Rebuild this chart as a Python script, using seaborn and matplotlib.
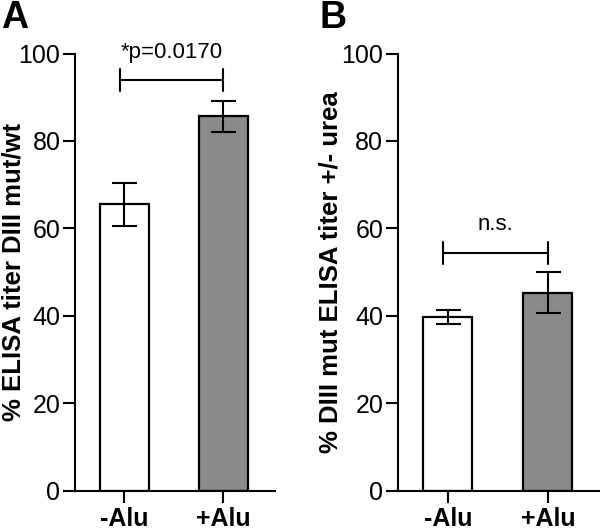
import numpy as np
import pandas as pd
import matplotlib
matplotlib.use("Agg")
import matplotlib.pyplot as plt
import seaborn as sns

# Data
groups = ['-Alu', '+Alu']
titer_mut_wt = [65.5, 85.6]
titer_mut_wt_err = [5.0, 3.6]
titer_urea = [39.8, 45.3]
titer_urea_err = [1.6, 4.7]
yticks = [0, 20, 40, 60, 80, 100]

sns.set_style("ticks")
plt.rcParams['font.family'] = ['Liberation Sans', 'DejaVu Sans']
plt.rcParams.update({'text.color': 'black', 'axes.labelcolor': 'black',
                     'xtick.color': 'black', 'ytick.color': 'black',
                     'axes.edgecolor': 'black'})

fig = plt.figure(figsize=(6, 5.3), dpi=100)
ax_a = fig.add_axes([0.125, 0.074, 0.333, 0.825])
ax_b = fig.add_axes([0.663, 0.074, 0.337, 0.825])


def draw_panel(ax, vals, errs, ylabel, sig_text, sig_y, sig_dy, label_x):
    df = pd.DataFrame({'group': groups, 'value': vals})
    sns.barplot(data=df, x='group', y='value', hue='group',
                palette=['white', '#8a8a8a'], legend=False,
                width=0.49, edgecolor='black', linewidth=1.6,
                errorbar=None, ax=ax)
    ax.errorbar(range(len(vals)), vals, yerr=errs, fmt='none',
                ecolor='black', elinewidth=1.5, capsize=9, capthick=1.5)
    # significance bracket
    ax.plot([-0.05, 1.0], [sig_y, sig_y], color='black', lw=1.5)
    ax.plot([-0.05, -0.05], [sig_y - 2.5, sig_y + 2.5], color='black', lw=1.5)
    ax.plot([1.0, 1.0], [sig_y - 2.5, sig_y + 2.5], color='black', lw=1.5)
    ax.text(0.48, sig_y + sig_dy, sig_text, ha='center', va='bottom', fontsize=16)

    ax.set_ylim(0, 100)
    ax.set_xlim(-0.5, 1.52)
    ax.set_yticks(yticks)
    ax.set_xlabel('')
    ax.set_ylabel(ylabel, fontsize=18.5, fontweight='bold')
    ax.yaxis.set_label_coords(label_x, 0.5)
    ax.tick_params(axis='y', labelsize=18, length=8.5, width=1.5, pad=2)
    ax.tick_params(axis='x', labelsize=18, length=8.5, width=1.5, pad=3.5)
    for lab in ax.get_xticklabels():
        lab.set_fontweight('bold')
    for s in ['left', 'bottom']:
        ax.spines[s].set_linewidth(1.5)
    sns.despine(ax=ax)


draw_panel(ax_a, titer_mut_wt, titer_mut_wt_err,
           '% ELISA titer DIII mut/wt', '*p=0.0170', 93.9, 4.0, -0.25)
draw_panel(ax_b, titer_urea, titer_urea_err,
           '% DIII mut ELISA titer +/- urea', 'n.s.', 54.4, 4.0, -0.272)

fig.text(0.002, 1.0, 'A', fontsize=27, fontweight='bold', va='top', ha='left')
fig.text(0.533, 1.0, 'B', fontsize=27, fontweight='bold', va='top', ha='left')

fig.savefig('out.png', dpi=100)
